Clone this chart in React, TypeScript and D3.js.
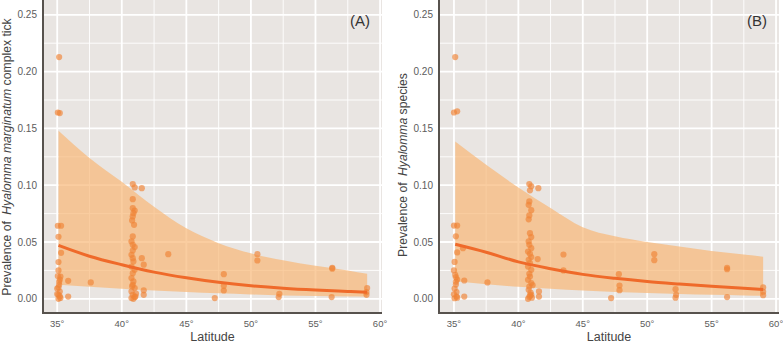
import React from 'react';
import * as d3 from 'd3';

// Sampled sites: latitude and tick prevalence
const latA = [
  35.15, 35.05, 35.2, 35.05, 35.3, 35.1, 35.3, 35.1, 35.1, 35.25, 35.2, 35.15, 35.1, 35.2, 35.0, 35.1,
  35.2, 35.1, 35.25, 35.05, 35.15, 35.0, 35.85, 35.85, 37.6,
  40.85, 41.0, 41.55, 40.85, 40.85, 41.0, 40.9, 40.85, 40.95, 40.85, 40.75, 40.85, 41.0, 40.85, 40.75,
  40.85, 40.9, 40.75, 41.0, 40.85, 40.75, 40.9, 40.85, 41.0, 40.75, 40.85, 41.0, 40.75, 40.9, 40.8,
  41.05, 40.8, 41.55, 41.7, 41.7, 41.7, 41.1,
  43.6, 47.9, 47.9, 47.9, 47.2, 50.5, 50.5, 52.2, 52.15, 56.3, 56.3, 56.25, 59.0, 58.95, 58.95,
];
const prevA = [
  0.2128, 0.164, 0.1635, 0.0643, 0.0643, 0.0546, 0.0405, 0.0324, 0.025, 0.0196, 0.017, 0.0123, 0.01, 0.0064, 0.0042, 0.0035,
  0.0021, 0.0, 0.0008, 0.02, 0.015, 0.009, 0.0158, 0.002, 0.0144,
  0.101, 0.098, 0.0974, 0.0877, 0.0798, 0.0777, 0.0754, 0.0725, 0.0651, 0.0549, 0.0505, 0.0475, 0.0455, 0.0425, 0.0387,
  0.0358, 0.0329, 0.0284, 0.0255, 0.0226, 0.0182, 0.0153, 0.0123, 0.0094, 0.0065, 0.0035, 0.0015, 0.0006, 0.0, 0.069,
  0.002, 0.011, 0.0358, 0.03, 0.0075, 0.0035, 0.0045,
  0.0393, 0.0217, 0.0114, 0.0073, 0.0006, 0.0393, 0.0337, 0.0044, 0.0015, 0.0273, 0.0265, 0.0015, 0.0094, 0.0059, 0.0035,
];

const latB = [
  35.1, 35.0, 35.25, 35.0, 35.25, 35.15, 35.25, 35.7, 35.05, 35.0, 35.15, 35.25, 35.15, 35.05, 35.2, 35.0,
  35.2, 35.05, 35.25, 35.1, 35.15, 35.8, 35.8, 37.6,
  40.85, 41.0, 41.55, 40.9, 40.85, 40.8, 41.0, 40.85, 40.8, 40.9, 41.0, 40.8, 40.85, 41.0, 40.75, 40.9,
  41.0, 40.8, 40.9, 40.75, 41.0, 40.85, 40.9, 40.75, 41.0, 40.85, 40.8, 40.95, 41.0, 40.85, 40.75,
  41.05, 40.9, 41.5, 41.6, 41.6, 41.1,
  43.5, 43.5, 47.8, 47.85, 47.85, 47.2, 50.55, 50.55, 52.2, 52.25, 52.2, 56.2, 56.2, 56.2, 59.0, 59.0, 59.0,
];
const prevB = [
  0.2128, 0.164, 0.165, 0.0645, 0.0645, 0.055, 0.0408, 0.0446, 0.0325, 0.025, 0.019, 0.017, 0.0125, 0.009, 0.006, 0.004,
  0.002, 0.0005, 0.001, 0.021, 0.015, 0.0161, 0.002, 0.0144,
  0.101, 0.099, 0.0974, 0.0955, 0.0857, 0.0827, 0.078, 0.0734, 0.07, 0.0578, 0.0543, 0.0505, 0.0475, 0.0446, 0.0416, 0.0396,
  0.0367, 0.0343, 0.0314, 0.0284, 0.0255, 0.022, 0.0196, 0.0167, 0.0138, 0.0108, 0.0079, 0.0055, 0.0035, 0.0015, 0.0,
  0.001, 0.003, 0.035, 0.0065, 0.002, 0.012,
  0.039, 0.025, 0.0217, 0.0117, 0.0076, 0.0006, 0.0393, 0.034, 0.0085, 0.0035, 0.001, 0.0273, 0.026, 0.0015, 0.01, 0.0062, 0.0032,
];

// Fitted trend with confidence band
const fitLat = [35.1, 37.5, 40, 42.5, 45, 47.5, 50, 52.5, 55, 57.5, 59];
const fitA = [0.047, 0.0375, 0.03, 0.0235, 0.0185, 0.0145, 0.0115, 0.0093, 0.0077, 0.0065, 0.0058];
const hiA = [0.148, 0.124, 0.103, 0.081, 0.062, 0.049, 0.04, 0.034, 0.029, 0.025, 0.022];
const loA = [0.0123, 0.0105, 0.0088, 0.0073, 0.006, 0.0048, 0.0038, 0.003, 0.0025, 0.0021, 0.0019];
const fitB = [0.048, 0.041, 0.0325, 0.0265, 0.0215, 0.018, 0.0152, 0.013, 0.011, 0.0092, 0.0082];
const hiB = [0.1385, 0.118, 0.098, 0.08, 0.063, 0.055, 0.05, 0.046, 0.042, 0.039, 0.037];
const loB = [0.0155, 0.0128, 0.0105, 0.0088, 0.0073, 0.006, 0.005, 0.0042, 0.0035, 0.003, 0.0027];

const xTicks = [35, 40, 45, 50, 55, 60];
const yTicks = [0, 0.05, 0.1, 0.15, 0.2, 0.25];

const FONT = '"Liberation Sans", Arial, sans-serif';
const BG = '#e9e5e2';

type PanelProps = {
  left: number;
  right: number;
  xDomain: [number, number];
  lat: number[];
  prev: number[];
  fit: number[];
  lo: number[];
  hi: number[];
  tag: string;
  titleY: number;
  titleX: number;
  title: React.ReactNode;
};

const Panel = ({ left, right, xDomain, lat, prev, fit, lo, hi, tag, titleX, titleY, title }: PanelProps) => {
  const top = 0.6;
  const bottom = 313;
  const x = d3.scaleLinear().domain(xDomain).range([left, right]);
  const y = d3.scaleLinear().domain([-0.0125, 0.2625]).range([bottom, top]);

  const minorX = d3.range(32.5, 62.6, 5).filter(v => v > xDomain[0] && v < xDomain[1]);
  const minorY = d3.range(0.025, 0.26, 0.05);

  const band = d3.area<number>()
    .x((_, i) => x(fitLat[i]))
    .y0((_, i) => y(lo[i]))
    .y1((_, i) => y(hi[i]))
    .curve(d3.curveMonotoneX);

  const trend = d3.line<number>()
    .x((_, i) => x(fitLat[i]))
    .y(d => y(d))
    .curve(d3.curveMonotoneX);

  return (
    <g>
      <rect x={left} y={0} width={right - left} height={bottom} fill={BG} />
      {minorX.map(v => (
        <line key={'mx' + v} x1={x(v)} x2={x(v)} y1={0} y2={bottom} stroke="#fff" strokeWidth={0.9} />
      ))}
      {minorY.map(v => (
        <line key={'my' + v} x1={left} x2={right} y1={y(v)} y2={y(v)} stroke="#fff" strokeWidth={0.9} />
      ))}
      {xTicks.map(v => (
        <line key={'gx' + v} x1={x(v)} x2={x(v)} y1={0} y2={bottom} stroke="#fff" strokeWidth={1.8} />
      ))}
      {yTicks.map(v => (
        <line key={'gy' + v} x1={left} x2={right} y1={y(v)} y2={y(v)} stroke="#fff" strokeWidth={1.8} />
      ))}

      <path d={band(fit) ?? ''} fill="#f8b878" fillOpacity={0.7} />

      {lat.map((v, i) => (
        <circle key={'p' + i} cx={x(v)} cy={y(prev[i])} r={3.1} fill="#f08436" fillOpacity={0.66} />
      ))}

      <path d={trend(fit) ?? ''} fill="none" stroke="#ef6a2a" strokeWidth={3} />

      <line x1={left} x2={left} y1={0} y2={bottom} stroke="#57524d" strokeWidth={2} />
      <line x1={left - 1} x2={right} y1={bottom} y2={bottom} stroke="#57524d" strokeWidth={2} />

      {yTicks.map(v => (
        <text key={'ty' + v} x={left - 6} y={y(v)} dy="0.35em" textAnchor="end"
          fontSize={10} fill="#5c5c5c" fontFamily={FONT}>
          {d3.format('.2f')(v)}
        </text>
      ))}
      {xTicks.map(v => (
        <text key={'tx' + v} x={x(v)} y={327} textAnchor="middle"
          fontSize={9.5} fill="#5c5c5c" fontFamily={FONT}>
          {v}°
        </text>
      ))}

      <text x={(left + right) / 2} y={341} textAnchor="middle" fontSize={12.5} fill="#444" fontFamily={FONT}>
        Latitude
      </text>
      <text transform={`translate(${titleX},${titleY}) rotate(-90)`} textAnchor="middle"
        fontSize={12.2} fill="#444" fontFamily={FONT}>
        {title}
      </text>
      <text x={right - 12} y={26} textAnchor="end" fontSize={15} fill="#333" fontFamily={FONT}>
        {tag}
      </text>
    </g>
  );
};

const App = () => (
  <svg width={783} height={344} style={{ position: 'absolute', left: 0, top: 0, background: '#fff' }}>
    <Panel
      left={43}
      right={382}
      xDomain={[33.9, 60.15]}
      lat={latA}
      prev={prevA}
      fit={fitA}
      lo={loA}
      hi={hiA}
      tag="(A)"
      titleX={11}
      titleY={157}
      title={<>Prevalence of <tspan dx={3} fontStyle="italic">Hyalomma marginatum</tspan> complex tick</>}
    />
    <Panel
      left={439}
      right={779}
      xDomain={[33.84, 60.23]}
      lat={latB}
      prev={prevB}
      fit={fitB}
      lo={loB}
      hi={hiB}
      tag="(B)"
      titleX={407}
      titleY={165}
      title={<>Prevalence of <tspan dx={3} fontStyle="italic">Hyalomma</tspan> species</>}
    />
  </svg>
);

export default App;
